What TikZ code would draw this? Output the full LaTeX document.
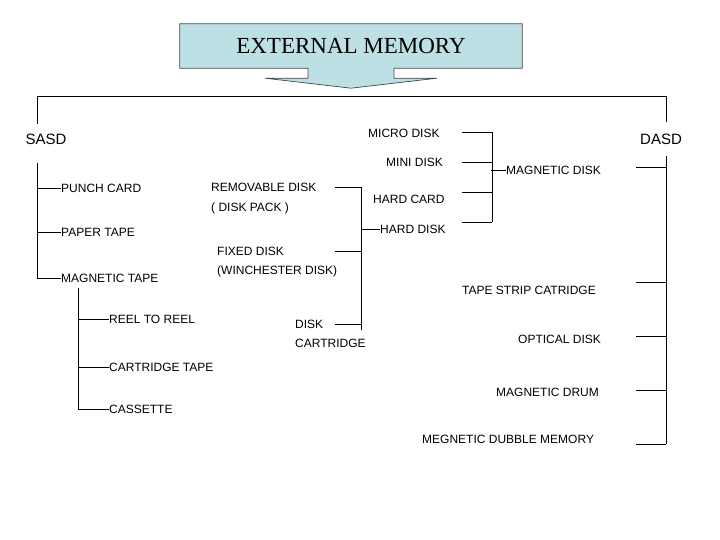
\documentclass[tikz,border=0pt]{standalone}
\usepackage{fontspec}
\setmainfont{Liberation Sans}
\newfontfamily\titlefont{Liberation Serif}
\usetikzlibrary{positioning,calc,backgrounds}
\definecolor{calloutblue}{RGB}{189,224,228}
\definecolor{outlinegray}{RGB}{70,70,70}

\begin{document}
\begin{tikzpicture}[
    x=1pt, y=-1pt,
    lbl/.style={anchor=west, inner sep=0pt, text height=9pt, text depth=0pt, font=\fontsize{12}{14}\selectfont},
    group/.style={inner xsep=0pt, text height=11pt, text depth=0pt, font=\fontsize{15}{18}\selectfont},
    wire/.style={draw=black, line width=0.8pt},
    callout/.style={draw=outlinegray, line width=0.7pt, fill=calloutblue}
  ]
  \useasboundingbox (0,0) rectangle (720,540);

  \node[minimum width=342pt, minimum height=44pt, inner sep=0pt, text height=15pt, text depth=0pt,
        font=\titlefont\fontsize{23}{26}\selectfont] (ext) at (351,46) {EXTERNAL MEMORY};
  \begin{scope}[on background layer]
    \path[callout] (ext.north west) -- (ext.north east) -- (ext.south east)
      -- ([xshift=43pt]ext.south) -- ++(0,10) -- ++(43,0) -- ([yshift=-20pt]ext.south)
      -- ++(-86,-10) -- ++(43,0) -- ([xshift=-43pt]ext.south) -- (ext.south west) -- cycle;
  \end{scope}

  \node[group, inner ysep=9.5pt] (sasd) at (46,139) {SASD};
  \node[group, inner ysep=11.5pt] (dasd) at (661,139) {DASD};
  \coordinate (bar L) at (37,96);
  \coordinate (bar R) at (666,96);

  \node[lbl] (punch) at (61,188) {PUNCH CARD};
  \node[lbl] (paper) at (61,232) {PAPER TAPE};
  \node[lbl] (mtape) at (61,278) {MAGNETIC TAPE};
  \node[lbl] (reel) at (109,319) {REEL TO REEL};
  \node[lbl] (ctape) at (109,367) {CARTRIDGE TAPE};
  \node[lbl] (cassette) at (109,409) {CASSETTE};

  \node[lbl] (removable) at (211,187) {REMOVABLE DISK};
  \node[lbl] (diskpack) at (211,207) {( DISK PACK )};
  \node[lbl] (fixed) at (217,251) {FIXED DISK};
  \node[lbl] (winchester) at (217,270) {(WINCHESTER DISK)};
  \node[lbl] (cdisk) at (295,324) {DISK};
  \node[lbl] (cartridge) at (295,343) {CARTRIDGE};
  \node[lbl] (harddisk) at (380,229) {HARD DISK};

  \node[lbl] (micro) at (368,133) {MICRO DISK};
  \node[lbl] (mini) at (386,162) {MINI DISK};
  \node[lbl] (hardcard) at (373,199) {HARD CARD};
  \node[lbl] (magdisk) at (506,170) {MAGNETIC DISK};

  \node[lbl] (tapestrip) at (462,290) {TAPE STRIP CATRIDGE};
  \node[lbl] (optical) at (518,339) {OPTICAL DISK};
  \node[lbl] (drum) at (496,392) {MAGNETIC DRUM};
  \node[lbl] (bubble) at (422,439) {MEGNETIC DUBBLE MEMORY};

  % SASD side
  \draw[wire] (bar L |- sasd.north) -- (bar L) -- (bar R) -- (bar R |- dasd.north);
  \draw[wire] ([yshift=-9pt]sasd.south -| bar L) |- (mtape.west);
  \draw[wire] (bar L |- punch.west) -- (punch.west);
  \draw[wire] (bar L |- paper.west) -- (paper.west);

  \coordinate (bar T) at (78,288);
  \draw[wire] (bar T) |- (cassette.west);
  \draw[wire] (bar T |- reel.west) -- (reel.west);
  \draw[wire] (bar T |- ctape.west) -- (ctape.west);

  \coordinate (bar H) at (361,187);
  \coordinate (stub H) at (335,187);
  \foreach \n in {removable,fixed,cdisk}
    \draw[wire] (stub H |- \n.east) -- (bar H |- \n.east);
  \draw[wire] (bar H |- removable.east) -- ([yshift=-6pt]bar H |- cdisk.east);
  \draw[wire] (bar H |- harddisk.west) -- (harddisk.west);

  \coordinate (bar M) at (492,132);
  \coordinate (stub M) at (462,132);
  \foreach \n/\s in {micro/1, mini/0, hardcard/7, harddisk/7}
    \draw[wire] ([yshift=\s pt]stub M |- \n.east) -- ([yshift=\s pt]bar M |- \n.east);
  \draw[wire] ([yshift=1pt]bar M |- micro.east) -- ([yshift=7pt]bar M |- harddisk.east);
  \draw[wire] ([xshift=-1pt]bar M |- magdisk.west) -- (magdisk.west);

  % DASD side
  \draw[wire] (bar R |- dasd.south) -- ([yshift=-5pt]bar R |- bubble.east);
  \coordinate (stub D) at (636,167);
  \foreach \n/\s in {magdisk/3, tapestrip/8, optical/3, drum/2, bubble/-5}
    \draw[wire] ([yshift=\s pt]stub D |- \n.east) -- ([yshift=\s pt]bar R |- \n.east);
\end{tikzpicture}
\end{document}
